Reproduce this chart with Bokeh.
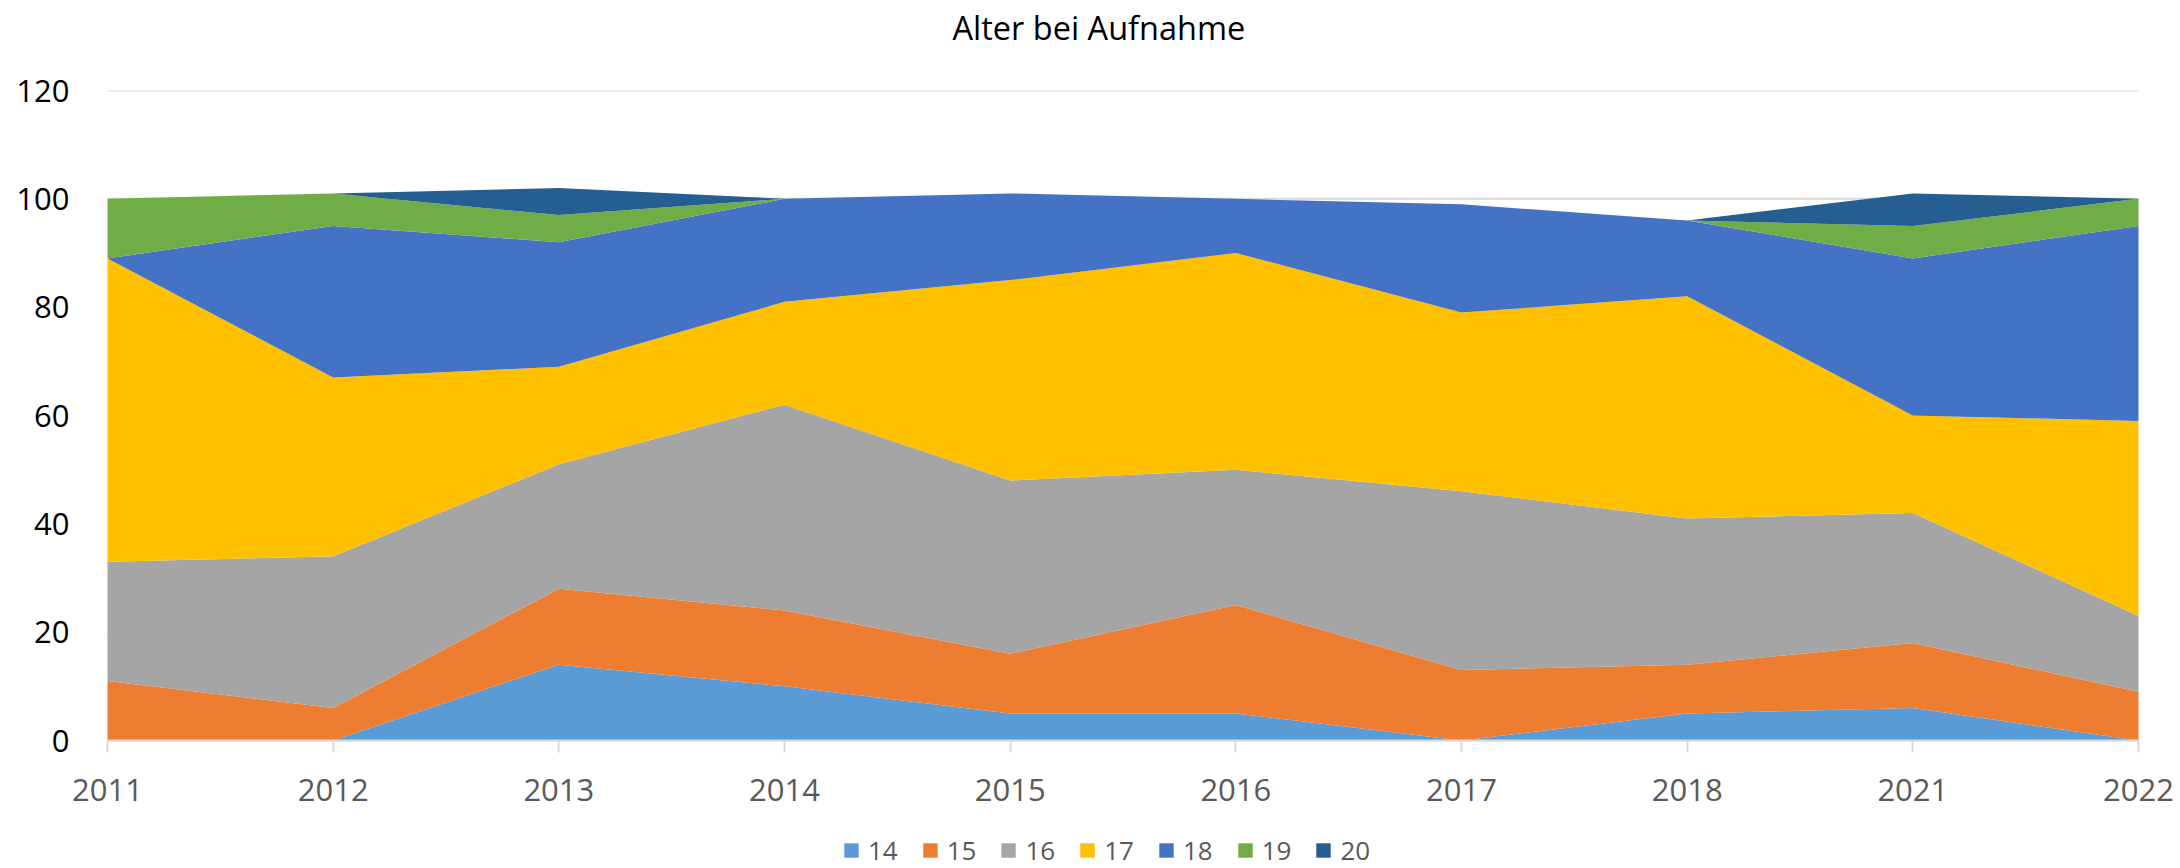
from bokeh.plotting import figure
from bokeh.models import Range1d, FixedTicker, ColumnDataSource, Legend, Title, LinearAxis
from bokeh.embed import file_html
from bokeh.resources import INLINE

# ---- data ----
years = ["2011", "2012", "2013", "2014", "2015", "2016", "2017", "2018", "2021", "2022"]
age_14 = [0, 0, 14, 10, 5, 5, 0, 5, 6, 0]
age_15 = [11, 6, 14, 14, 11, 20, 13, 9, 12, 9]
age_16 = [22, 28, 23, 38, 32, 25, 33, 27, 24, 14]
age_17 = [56, 33, 18, 19, 37, 40, 33, 41, 18, 36]
age_18 = [0, 28, 23, 19, 16, 10, 20, 14, 29, 36]
age_19 = [11, 6, 5, 0, 0, 0, 0, 0, 6, 5]
age_20 = [0, 0, 5, 0, 0, 0, 0, 0, 6, 0]
series_names = ["14", "15", "16", "17", "18", "19", "20"]
y_ticks = [0, 20, 40, 60, 80, 100, 120]
title_text = "Alter bei Aufnahme"

colors = ["#5B9BD5", "#ED7D31", "#A5A5A5", "#FFC000", "#4472C4", "#70AD47", "#255E91"]

x_idx = list(range(len(years)))
source = ColumnDataSource(data={
    "x": x_idx,
    "14": age_14, "15": age_15, "16": age_16, "17": age_17,
    "18": age_18, "19": age_19, "20": age_20,
})

# frame padded left/right (room for the end tick labels) and running down to the
# canvas bottom (room for the legend); the x axis is pinned at y = 0
x_pad = 0.1684
p = figure(width=2180, height=868, output_backend="svg", toolbar_location=None,
           x_range=Range1d(x_idx[0] - x_pad, x_idx[-1] + x_pad),
           y_range=Range1d(-23.63, y_ticks[-1]),
           min_border_left=69, min_border_right=4, min_border_top=90, min_border_bottom=0)
p.title = None
p.outline_line_color = None
p.background_fill_color = "white"
p.border_fill_color = "white"

# horizontal gridlines spanning the categories only
p.segment(x0=[x_idx[0]] * len(y_ticks), x1=[x_idx[-1]] * len(y_ticks),
          y0=y_ticks, y1=y_ticks, line_color="#D9D9D9", line_width=2)

renderers = p.varea_stack(stackers=series_names, x="x", color=colors, source=source)

# spacer panel between frame and title
spacer = LinearAxis(ticker=FixedTicker(ticks=[x_idx[0]]), axis_line_color=None,
                    major_tick_line_color=None, minor_tick_line_color=None,
                    major_tick_out=41, major_tick_in=0, minor_tick_out=0,
                    major_label_standoff=0, major_label_overrides={x_idx[0]: ""},
                    major_label_text_font_size="1px")
p.add_layout(spacer, "above")
p.add_layout(Title(text=title_text, align="left", offset=883, standoff=0,
                   text_font="Open Sans", text_font_size="32.5px", text_font_style="normal",
                   text_color="#000000"), "above")

# x axis (the figure's own bottom axis)
xa = p.below[0]
xa.fixed_location = 0
xa.bounds = (x_idx[0], x_idx[-1])
xa.ticker = FixedTicker(ticks=x_idx)
xa.major_label_overrides = {i: y for i, y in zip(x_idx, years)}
xa.axis_line_color = "#D9D9D9"
xa.axis_line_width = 2
xa.major_tick_line_color = "#D9D9D9"
xa.major_tick_line_width = 2
xa.major_tick_out = 12
xa.major_tick_in = 0
xa.minor_tick_line_color = None
xa.major_label_text_font = "Open Sans"
xa.major_label_text_font_size = "31px"
xa.major_label_text_color = "#595959"
xa.major_label_standoff = 26

# y axis
ya = p.left[0]
ya.ticker = FixedTicker(ticks=y_ticks)
ya.axis_line_color = None
ya.major_tick_line_color = None
ya.minor_tick_line_color = None
ya.major_tick_out = 0
ya.major_tick_in = 0
ya.major_label_text_font = "Open Sans"
ya.major_label_text_font_size = "31px"
ya.major_label_text_color = "#000000"
ya.major_label_standoff = 0

p.xgrid.grid_line_color = None
p.ygrid.grid_line_color = None

legend = Legend(items=[(n, [r]) for n, r in zip(series_names, renderers)],
                location=(773, 0), orientation="horizontal",
                glyph_width=18, glyph_height=18, label_standoff=8, spacing=23,
                padding=0, margin=0, border_line_color=None, background_fill_alpha=0,
                label_text_font="Open Sans", label_text_font_size="26px",
                label_text_color="#595959", label_height=18, label_width=0)
p.add_layout(legend)

open("out.html", "w").write(file_html(p, INLINE))
